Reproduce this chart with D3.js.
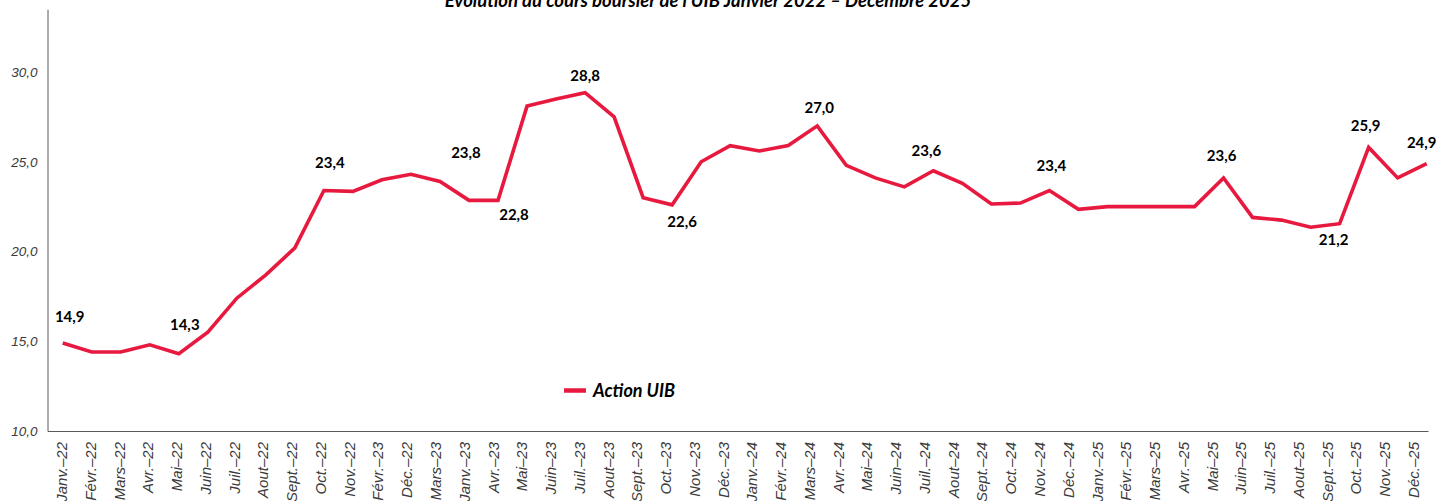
<!DOCTYPE html>
<html>
<head>
<meta charset="utf-8">
<script src="https://cdn.jsdelivr.net/npm/d3@7"></script>
<style>
	html, body { margin: 0; padding: 0; background: #ffffff; }
	svg { display: block; font-family: "Lato", "Open Sans", sans-serif; }
	.yAxis text { font-style: italic; font-size: 13.5px; fill: #3a3a3a; }
	.xAxis text { font-style: italic; font-size: 15px; fill: #3a3a3a; }
	.dataLabel { font-weight: bold; font-size: 15px; fill: #000000; }
</style>
</head>
<body>
<svg id="chart"></svg>
<script>
var months = [
	"Janv.–22", "Févr.–22", "Mars–22", "Avr.–22", "Mai–22", "Juin–22", "Juil.–22", "Aout–22", "Sept.–22", "Oct.–22", "Nov.–22", "Févr.–23",
	"Déc.–22", "Mars–23", "Janv.–23", "Avr.–23", "Mai–23", "Juin–23", "Juil.–23", "Aout–23", "Sept.–23", "Oct.–23", "Nov.–23", "Déc.–23",
	"Janv.–24", "Févr.–24", "Mars–24", "Avr.–24", "Mai–24", "Juin–24", "Juil.–24", "Aout–24", "Sept.–24", "Oct.–24", "Nov.–24", "Déc.–24",
	"Janv.–25", "Févr.–25", "Mars–25", "Avr.–25", "Mai–25", "Juin–25", "Juil.–25", "Aout–25", "Sept.–25", "Oct.–25", "Nov.–25", "Déc.–25"
];

// cours de l'action UIB (TND)
var coursUIB = [
	14.9, 14.4, 14.4, 14.8, 14.3, 15.5, 17.4, 18.7, 20.2, 23.4, 23.35, 24.0,
	24.3, 23.9, 22.85, 22.85, 28.1, 28.5, 28.85, 27.5, 23.0, 22.6, 25.0, 25.9,
	25.6, 25.9, 27.0, 24.8, 24.1, 23.6, 24.5, 23.8, 22.65, 22.7, 23.4, 22.35,
	22.5, 22.5, 22.5, 22.5, 24.1, 21.9, 21.75, 21.35, 21.55, 25.8, 24.1, 24.9
];

// étiquettes affichées sur la courbe
var labelIndex = [0, 4, 9, 14, 15, 18, 21, 26, 30, 34, 40, 44, 45, 47];
var labelText = ["14,9", "14,3", "23,4", "23,8", "22,8", "28,8", "22,6", "27,0", "23,6", "23,4", "23,6", "21,2", "25,9", "24,9"];

var yTicks = [10, 15, 20, 25, 30];
var seriesName = "Action UIB";
var chartTitle = "Evolution du cours boursier de l'UIB Janvier 2022 – Décembre 2025";

class CoursGraph {
	constructor(width, height) {
		this.width = width;
		this.height = height;
		this.plot = { left: 47.5, right: 1428, top: 9.2, bottom: 431 };
		this.lineColor = "#e8193f";

		// décalage manuel des étiquettes par rapport au point (dx, dy de la ligne de base)
		this.labelOffsets = [
			[7, -21], [6, -24], [6, -22], [-3, -42], [16, 20], [0, -12], [10, 22],
			[2, -13], [-7, -15], [2, -19], [-2, -17], [-6, 21], [-3, -16], [-5, -16]
		];

		this.svg = d3.select("#chart")
			.attr("width", this.width)
			.attr("height", this.height);
		this.container = this.svg.append("g").attr("class", "container");

		// axe des catégories (libellés) et positions des points de la courbe
		this.xBand = d3.scaleBand().domain(months).range([this.plot.left, this.plot.right]);
		this.xLine = d3.scalePoint().domain(d3.range(coursUIB.length)).range([62.7, 1426.7]);
		this.yScale = d3.scaleLinear().domain([10, 33.5]).range([this.plot.bottom, this.plot.top]);

		this.drawTitle();
		this.drawAxis();
		this.drawLine();
		this.drawLabels();
		this.drawLegend();
	}

	drawTitle() {
		this.container.append("text")
			.attr("class", "title")
			.attr("x", 708)
			.attr("y", 6.5)
			.attr("text-anchor", "middle")
			.style("font-weight", "bold")
			.style("font-style", "italic")
			.style("font-size", "18.5px")
			.style("fill", "#000")
			.text(chartTitle);
	}

	drawAxis() {
		var yAxis = this.container.append("g")
			.attr("class", "yAxis")
			.attr("transform", "translate(" + this.plot.left + ",0)")
			.call(d3.axisLeft(this.yScale)
				.tickValues(yTicks)
				.tickSize(0)
				.tickPadding(10)
				.tickFormat(function(d) { return d3.format(".1f")(d).replace(".", ","); }));
		yAxis.select(".domain").attr("stroke", "#595959").attr("stroke-width", 1);

		var xAxis = this.container.append("g")
			.attr("class", "xAxis")
			.attr("transform", "translate(0," + this.plot.bottom + ")")
			.call(d3.axisBottom(this.xBand).tickSize(0).tickSizeOuter(0));
		xAxis.select(".domain").attr("stroke", "#595959").attr("stroke-width", 1);
		xAxis.selectAll("text")
			.attr("transform", "rotate(-90)")
			.attr("x", -11)
			.attr("y", 0)
			.attr("dy", "0.35em")
			.style("text-anchor", "end");
	}

	drawLine() {
		var line = d3.line()
			.x(function(d, i) { return this.xLine(i); }.bind(this))
			.y(function(d) { return this.yScale(d); }.bind(this));

		this.container.append("path")
			.datum(coursUIB)
			.attr("class", "coursLine")
			.attr("fill", "none")
			.attr("stroke", this.lineColor)
			.attr("stroke-width", 3.6)
			.attr("stroke-linejoin", "miter")
			.attr("d", line);
	}

	drawLabels() {
		this.container.selectAll(".dataLabel")
			.data(labelIndex)
			.enter()
			.append("text")
			.attr("class", "dataLabel")
			.attr("text-anchor", "middle")
			.attr("x", function(d, i) { return this.xLine(d) + this.labelOffsets[i][0]; }.bind(this))
			.attr("y", function(d, i) { return this.yScale(coursUIB[d]) + this.labelOffsets[i][1]; }.bind(this))
			.text(function(d, i) { return labelText[i]; });
	}

	drawLegend() {
		var legend = this.container.append("g")
			.attr("class", "legend")
			.attr("transform", "translate(564,390.5)");
		legend.append("line")
			.attr("x1", 0).attr("x2", 22)
			.attr("y1", 0).attr("y2", 0)
			.attr("stroke", this.lineColor)
			.attr("stroke-width", 4.5);
		legend.append("text")
			.attr("x", 29)
			.attr("y", 6)
			.style("font-weight", "bold")
			.style("font-style", "italic")
			.style("font-size", "18px")
			.style("fill", "#000")
			.text(seriesName);
	}
}

var graph = new CoursGraph(1438, 501);
</script>
</body>
</html>
